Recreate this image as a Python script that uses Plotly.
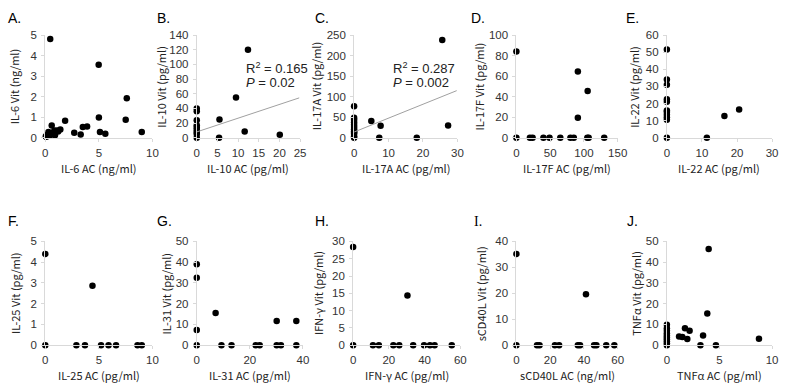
import plotly.graph_objects as go

W, H = 789, 387

# ---------------- data ----------------
il6_ac  = [0.46, 4.98, 7.6, 5.0, 7.5, 1.85, 0.6, 1.4, 3.9, 3.5, 2.7, 3.3, 5.1, 5.6, 9.0,
           0.1, 0.3, 0.6, 0.9, 1.1, 1.2, 0.45, 0.2, 0.85, 0.7, 0.05]
il6_vit = [4.81, 3.55, 1.93, 0.99, 0.88, 0.83, 0.6, 0.4, 0.55, 0.52, 0.24, 0.16, 0.28, 0.2, 0.28,
           0.05, 0.28, 0.2, 0.12, 0.36, 0.3, 0.12, 0.15, 0.35, 0.25, 0.08]

il10_ac  = [12.4, 9.5, 5.5, 5.4, 11.6, 20.1, 0, 0, 0, 0, 0, 0, 0, 0, 0]
il10_vit = [120, 55, 25, 0, 8.5, 4, 40, 36, 24, 17, 14, 11, 8, 5, 0]
il10_trend = [8.0, 1.87]   # intercept, slope
il10_r2, il10_p = "0.165", "0.02"

il17a_ac  = [25.6, 5.0, 7.7, 7.3, 18.2, 27.3, 0, 0, 0, 0, 0, 0, 0, 0, 0, 0, 0, 0]
il17a_vit = [238, 41, 29, 0, 0, 30, 77, 49, 44, 38, 32, 26, 21, 16, 10, 4, 0, 13]
il17a_trend = [14.0, 3.38]
il17a_r2, il17a_p = "0.287", "0.002"

il17f_ac  = [0, 91, 105.5, 91, 0, 20, 24, 40, 49, 65, 80, 85, 105, 107, 130]
il17f_vit = [84, 64.5, 45.6, 19.5, 0, 0, 0, 0, 0, 0, 0, 0, 0, 0, 0]

il22_ac  = [0, 0, 0, 0, 0, 0, 0, 0, 0, 0, 0, 11.4, 16.4, 20.6]
il22_vit = [51.5, 34, 31, 22.5, 21, 16, 15, 13.5, 12, 10.5, 0, 0, 12.7, 16.5]

il25_ac  = [0, 4.4, 0, 2.9, 3.7, 5.2, 5.9, 6.6, 8.6, 9.0]
il25_vit = [4.4, 2.87, 0, 0, 0, 0, 0, 0, 0, 0]

il31_ac  = [0, 0, 0, 0, 7.1, 30.1, 37.5, 9.3, 13.1, 22.2, 23.7, 30.1, 31.7, 37.5]
il31_vit = [39, 32.5, 7.3, 0, 15.5, 11.6, 11.6, 0, 0, 0, 0, 0, 0, 0]

ifng_ac  = [0, 30.4, 0, 11.1, 14.4, 22.5, 25.8, 33.6, 39.7, 43, 45.6, 55.2]
ifng_vit = [28.4, 14.4, 0, 0, 0, 0, 0, 0, 0, 0, 0, 0]

scd40l_ac  = [0, 41.2, 0, 12.2, 13.7, 22.8, 25.3, 36.4, 37.7, 46, 47.4, 53.2, 58]
scd40l_vit = [35.2, 19.6, 0, 0, 0, 0, 0, 0, 0, 0, 0, 0, 0]

tnfa_ac  = [3.97, 3.84, 1.72, 2.16, 1.16, 1.47, 1.94, 3.44, 3.19, 4.66, 8.75,
            0, 0, 0, 0, 0, 0, 0, 0, 0, 0]
tnfa_vit = [46.4, 15.3, 8.1, 6.9, 4.2, 3.9, 3.0, 4.7, 0, 0, 3.1,
            9.8, 8.1, 6.9, 5.8, 4.7, 3.75, 2.8, 1.9, 0.9, 0]

panels = [
    dict(lab="A.", x=il6_ac, y=il6_vit, xr=[0, 10], xd=5, yr=[0, 5], yd=1,
         xt="IL-6 AC (ng/ml)", yt="IL-6 Vit (ng/ml)"),
    dict(lab="B.", x=il10_ac, y=il10_vit, xr=[0, 25], xd=5, yr=[0, 140], yd=20,
         xt="IL-10 AC (pg/ml)", yt="IL-10 Vit (pg/ml)", trend=il10_trend, r2=il10_r2, p=il10_p),
    dict(lab="C.", x=il17a_ac, y=il17a_vit, xr=[0, 30], xd=10, yr=[0, 250], yd=50,
         xt="IL-17A AC (pg/ml)", yt="IL-17A Vit (pg/ml)", trend=il17a_trend, r2=il17a_r2, p=il17a_p),
    dict(lab="D.", x=il17f_ac, y=il17f_vit, xr=[0, 150], xd=50, yr=[0, 100], yd=20,
         xt="IL-17F AC (pg/ml)", yt="IL-17F Vit (pg/ml)"),
    dict(lab="E.", x=il22_ac, y=il22_vit, xr=[0, 30], xd=10, yr=[0, 60], yd=10,
         xt="IL-22 AC (pg/ml)", yt="IL-22 Vit (pg/ml)"),
    dict(lab="F.", x=il25_ac, y=il25_vit, xr=[0, 10], xd=5, yr=[0, 5], yd=1,
         xt="IL-25 AC (pg/ml)", yt="IL-25 Vit (pg/ml)"),
    dict(lab="G.", x=il31_ac, y=il31_vit, xr=[0, 40], xd=20, yr=[0, 50], yd=10,
         xt="IL-31 AC (pg/ml)", yt="IL-31 Vit (pg/ml)"),
    dict(lab="H.", x=ifng_ac, y=ifng_vit, xr=[0, 60], xd=20, yr=[0, 30], yd=5,
         xt="IFN-γ AC (pg/ml)", yt="IFN-γ Vit (pg/ml)"),
    dict(lab="I.", x=scd40l_ac, y=scd40l_vit, xr=[0, 60], xd=20, yr=[0, 40], yd=10,
         xt="sCD40L AC (ng/ml)", yt="sCD40L Vit (pg/ml)", serif=True),
    dict(lab="J.", x=tnfa_ac, y=tnfa_vit, xr=[0, 10], xd=5, yr=[0, 50], yd=10,
         xt="TNFα AC (pg/ml)", yt="TNFα Vit (pg/ml)"),
]

# layout in pixels (left, right, top, bottom) of plot areas
boxes = [
    (43, 152, 30, 136), (197, 302, 30, 136), (357, 462, 30, 136), (522, 625, 30, 136), (675, 782, 30, 136),
    (43, 152, 243, 350), (197, 305, 243, 350), (356, 465, 243, 350), (522, 625, 243, 350), (675, 782, 243, 350),
]
lab_pos = [(3, 12), (155, 12), (315, 12), (474, 12), (631, 12),
           (3, 222), (155, 222), (315, 222), (477, 222), (632, 222)]
ytitle_x = [12, 161, 319, 484, 642, 13, 166, 321, 486, 644]
xtitle_y = [167, 167, 167, 167, 167, 381, 381, 381, 381, 381]

TICK_FONT = dict(family="Liberation Sans, Arial, sans-serif", size=11.5, color="#333333")
TITLE_FONT = dict(family="Noto Sans CJK JP, sans-serif", size=11, color="#222222")

fig = go.Figure()
annotations = []
for i, (pn, (l, r, t, b)) in enumerate(zip(panels, boxes)):
    k = "" if i == 0 else str(i + 1)
    xa, ya = "x" + k, "y" + k
    fig.add_trace(go.Scatter(x=pn["x"], y=pn["y"], mode="markers", xaxis=xa, yaxis=ya,
                             marker=dict(color="black", size=6.5), showlegend=False,
                             cliponaxis=False, hoverinfo="skip"))
    if "trend" in pn:
        b0, b1 = pn["trend"]
        xs = [pn["xr"][0], pn["xr"][1] - 0.2]
        fig.add_trace(go.Scatter(x=xs, y=[b0 + b1 * v for v in xs], mode="lines",
                                 xaxis=xa, yaxis=ya, line=dict(color="#a0a0a0", width=1),
                                 showlegend=False, hoverinfo="skip"))
    axcommon = dict(showgrid=False, zeroline=False, showline=True, linecolor="#d9d9d9",
                    linewidth=1, ticks="outside", ticklen=3, tickcolor="#d9d9d9",
                    tickfont=TICK_FONT, fixedrange=True)
    fig.layout["xaxis" + k] = dict(domain=[l / W, r / W], range=pn["xr"], dtick=pn["xd"],
                                   tick0=0, anchor=ya, ticklabelstandoff=1, **axcommon)
    fig.layout["yaxis" + k] = dict(domain=[1 - b / H, 1 - t / H], range=pn["yr"], dtick=pn["yd"],
                                   tick0=0, anchor=xa, ticklabelstandoff=2, **axcommon)
    # panel label
    lx, ly = lab_pos[i]
    annotations.append(dict(text=pn["lab"], x=lx / W, y=1 - ly / H, xref="paper", yref="paper",
                            xanchor="left", yanchor="middle", showarrow=False,
                            font=dict(family=("Liberation Serif, serif" if pn.get("serif") else
                                              "Liberation Sans, Arial, sans-serif"),
                                      size=14, color="black")))
    # axis titles
    annotations.append(dict(text=pn["xt"], x=(l + r) / 2 / W, y=1 - xtitle_y[i] / H,
                            xref="paper", yref="paper", xanchor="center", yanchor="middle",
                            showarrow=False, font=TITLE_FONT))
    annotations.append(dict(text=pn["yt"], x=ytitle_x[i] / W, y=1 - (t + b) / 2 / H,
                            xref="paper", yref="paper", xanchor="center", yanchor="middle",
                            textangle=-90, showarrow=False, font=TITLE_FONT))
    if "r2" in pn:
        off = 48 if i == 1 else 38
        annotations.append(dict(text="R<sup>2</sup> = " + pn["r2"], x=(l + off) / W,
                                y=1 - 64 / H, xref="paper", yref="paper", xanchor="left",
                                yanchor="middle", showarrow=False,
                                font=dict(family="Liberation Sans, Arial, sans-serif", size=13,
                                          color="#222222")))
        annotations.append(dict(text="<i>P</i> = " + pn["p"], x=(l + off) / W,
                                y=1 - 79 / H, xref="paper", yref="paper", xanchor="left",
                                yanchor="middle", showarrow=False,
                                font=dict(family="Liberation Sans, Arial, sans-serif", size=13,
                                          color="#222222")))

fig.update_layout(width=W, height=H, margin=dict(l=0, r=0, t=0, b=0),
                  paper_bgcolor="white", plot_bgcolor="white", annotations=annotations)
fig.write_html("out.html", config={"displayModeBar": False},
               post_script="document.body.style.margin='0';document.body.style.overflow='hidden';")
